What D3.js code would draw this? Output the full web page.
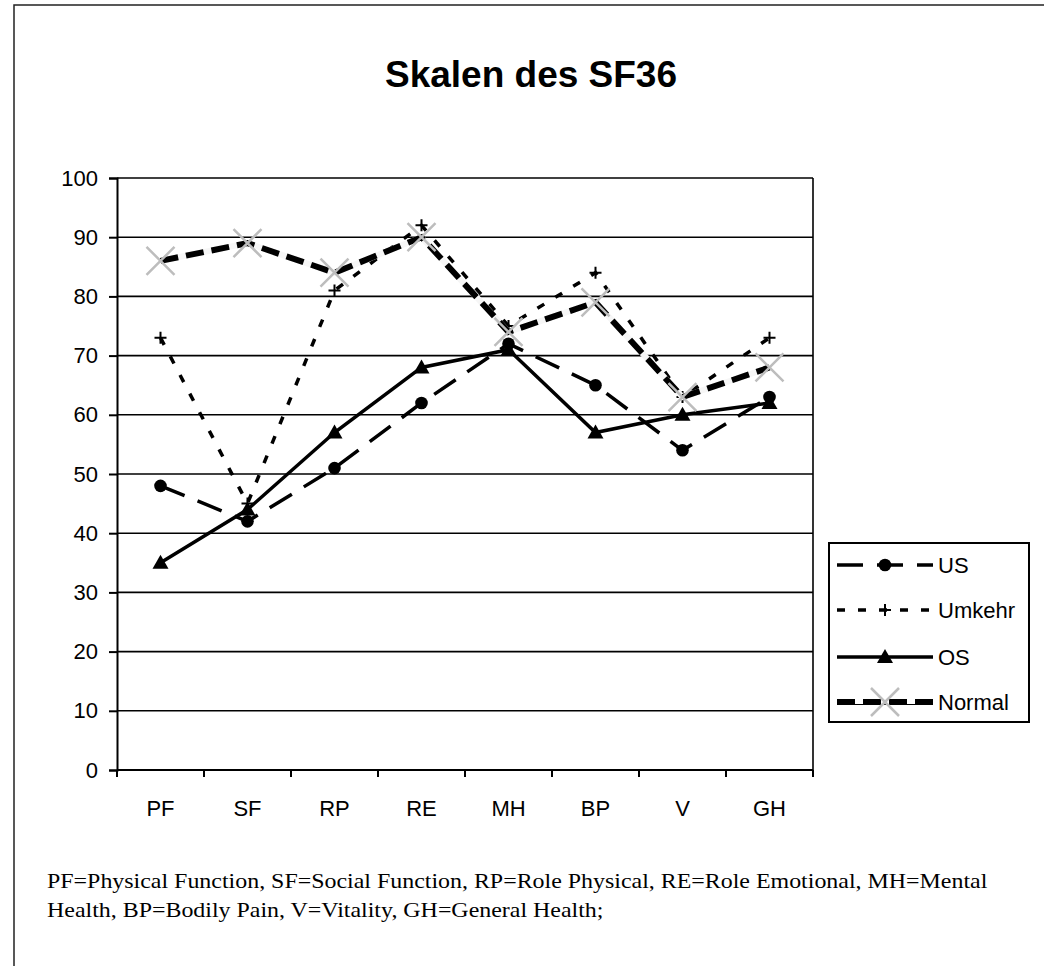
<!DOCTYPE html>
<html>
<head>
<meta charset="utf-8">
<script src="https://cdn.jsdelivr.net/npm/d3@7"></script>
<style>
  body { margin: 0; background: #fff; }
  svg { display: block; }
</style>
</head>
<body>
<div id="chart"></div>
<script>
// SF36 scales
const categories = ['PF', 'SF', 'RP', 'RE', 'MH', 'BP', 'V', 'GH'];
const usValues     = [48, 42, 51, 62, 72, 65, 54, 63];
const umkehrValues = [73, 45, 81, 92, 75, 84, 63, 73];
const osValues     = [35, 44, 57, 68, 71, 57, 60, 62];
const normalValues = [86, 89, 84, 90, 74, 79, 63, 68];
const yTicks = [0, 10, 20, 30, 40, 50, 60, 70, 80, 90, 100];
const seriesNames = ['US', 'Umkehr', 'OS', 'Normal'];
const footnoteLines = [
    'PF=Physical Function, SF=Social Function, RP=Role Physical, RE=Role Emotional, MH=Mental',
    'Health, BP=Bodily Pain, V=Vitality, GH=General Health;'
];

const width = 1044, height = 966;
const plot = {left: 117, right: 813, top: 178, bottom: 770};
const sans = 'Arial, "Liberation Sans", sans-serif';
const serif = '"Times New Roman", "Liberation Serif", serif';

const svg = d3.select('#chart')
    .append('svg')
    .attr('width', width)
    .attr('height', height);

// outer frame
svg.append('rect')
    .attr('x', 14).attr('y', 5)
    .attr('width', 1100).attr('height', 1100)
    .attr('fill', 'none')
    .attr('stroke', '#222')
    .attr('stroke-width', 1.5);

// title
svg.append('text')
    .attr('x', 531).attr('y', 87)
    .attr('text-anchor', 'middle')
    .style('font-family', sans)
    .style('font-size', '37px')
    .style('font-weight', 'bold')
    .text('Skalen des SF36');

const x = d3.scaleBand()
    .domain(categories)
    .range([plot.left, plot.right]);

const y = d3.scaleLinear()
    .domain([0, 100])
    .range([plot.bottom, plot.top]);

const cx = d => x(d) + x.bandwidth() / 2;

// grid lines
svg.append('g')
    .selectAll('line')
    .data(yTicks.filter(t => t > 0))
    .join('line')
    .attr('x1', plot.left).attr('x2', plot.right)
    .attr('y1', d => y(d)).attr('y2', d => y(d))
    .attr('stroke', '#000')
    .attr('stroke-width', 1.6);

// right border of plot area
svg.append('line')
    .attr('x1', plot.right).attr('x2', plot.right)
    .attr('y1', plot.top).attr('y2', plot.bottom)
    .attr('stroke', '#000')
    .attr('stroke-width', 1.6);

// y axis
svg.append('g')
    .attr('transform', `translate(${plot.left},0)`)
    .call(d3.axisLeft(y).tickValues(yTicks).tickSize(8).tickPadding(11))
    .call(g => g.selectAll('line, path').attr('stroke', '#000').attr('stroke-width', 2))
    .call(g => g.selectAll('text')
        .attr('fill', '#000')
        .style('font-family', sans)
        .style('font-size', '22px'));

// x axis: labels centred in bands, ticks on band boundaries
svg.append('g')
    .attr('transform', `translate(0,${plot.bottom})`)
    .call(d3.axisBottom(x).tickSize(0).tickPadding(30))
    .call(g => g.select('.domain').remove())
    .call(g => g.selectAll('text')
        .attr('fill', '#000')
        .style('font-family', sans)
        .style('font-size', '22px'));

svg.append('line')
    .attr('x1', plot.left).attr('x2', plot.right)
    .attr('y1', plot.bottom).attr('y2', plot.bottom)
    .attr('stroke', '#000')
    .attr('stroke-width', 2);

svg.append('g')
    .selectAll('line')
    .data(d3.range(categories.length + 1))
    .join('line')
    .attr('x1', i => plot.left + i * x.step())
    .attr('x2', i => plot.left + i * x.step())
    .attr('y1', plot.bottom)
    .attr('y2', plot.bottom + 7)
    .attr('stroke', '#000')
    .attr('stroke-width', 2);

// marker drawing
function drawMarker(g, type, px, py) {
    if (type === 'circle') {
        g.append('circle')
            .attr('cx', px).attr('cy', py).attr('r', 6.3)
            .attr('fill', '#000');
    } else if (type === 'plus') {
        g.append('path')
            .attr('d', `M${px - 6},${py}H${px + 6}M${px},${py - 6}V${py + 6}`)
            .attr('stroke', '#000')
            .attr('stroke-width', 2);
    } else if (type === 'triangle') {
        g.append('path')
            .attr('d', `M${px},${py - 8}L${px + 8},${py + 6}L${px - 8},${py + 6}Z`)
            .attr('fill', '#000');
    } else if (type === 'cross') {
        g.append('path')
            .attr('d', `M${px - 14},${py - 14}L${px + 14},${py + 14}M${px + 14},${py - 14}L${px - 14},${py + 14}`)
            .attr('stroke', '#bdbdbd')
            .attr('stroke-width', 2.5);
    }
}

const series = [
    {name: seriesNames[0], values: usValues, marker: 'circle',
     layers: [{color: '#000', width: 3.5, dash: '26,14'}]},
    {name: seriesNames[1], values: umkehrValues, marker: 'plus',
     layers: [{color: '#000', width: 3.5, dash: '8,13'}]},
    {name: seriesNames[2], values: osValues, marker: 'triangle',
     layers: [{color: '#000', width: 3.5, dash: null}]},
    {name: seriesNames[3], values: normalValues, marker: 'cross',
     layers: [{color: '#f6f6f6', width: 6, dash: null},
              {color: '#000', width: 6, dash: '18,8'}]}
];

const line = d3.line()
    .x((d, i) => cx(categories[i]))
    .y(d => y(d));

series.forEach(s => {
    const g = svg.append('g');
    s.layers.forEach(l => {
        g.append('path')
            .datum(s.values)
            .attr('fill', 'none')
            .attr('stroke', l.color)
            .attr('stroke-width', l.width)
            .attr('stroke-dasharray', l.dash)
            .attr('d', line);
    });
    s.values.forEach((v, i) => drawMarker(g, s.marker, cx(categories[i]), y(v)));
});

// legend
const legend = svg.append('g');
legend.append('rect')
    .attr('x', 829).attr('y', 543)
    .attr('width', 200).attr('height', 179)
    .attr('fill', '#fff')
    .attr('stroke', '#000')
    .attr('stroke-width', 2);

const legendY = [565, 610, 657, 702];
series.forEach((s, i) => {
    const ly = legendY[i];
    const g = legend.append('g');
    if (s.name === 'Normal') {
        g.append('line')
            .attr('x1', 837).attr('x2', 933)
            .attr('y1', ly + 2.5).attr('y2', ly + 2.5)
            .attr('stroke', '#000').attr('stroke-width', 1);
    }
    s.layers.forEach(l => {
        g.append('line')
            .attr('x1', 837).attr('x2', 933)
            .attr('y1', ly).attr('y2', ly)
            .attr('stroke', l.color === '#f6f6f6' ? 'none' : l.color)
            .attr('stroke-width', l.width)
            .attr('stroke-dasharray', l.dash);
    });
    drawMarker(g, s.marker, 885, ly);
    g.append('text')
        .attr('x', 938).attr('y', ly + 8)
        .style('font-family', sans)
        .style('font-size', '22px')
        .text(s.name);
});

// footnote, squeezed horizontally to the reference line width
const foot = svg.append('g');
const fl = foot.append('text')
    .attr('x', 0).attr('y', 888)
    .style('font-family', serif)
    .style('font-size', '22px')
    .text(footnoteLines[0]);
foot.append('text')
    .attr('x', 0).attr('y', 917)
    .style('font-family', serif)
    .style('font-size', '22px')
    .text(footnoteLines[1]);
const k = 941 / fl.node().getComputedTextLength();
foot.attr('transform', `translate(47,0) scale(${k},1)`);
</script>
</body>
</html>
